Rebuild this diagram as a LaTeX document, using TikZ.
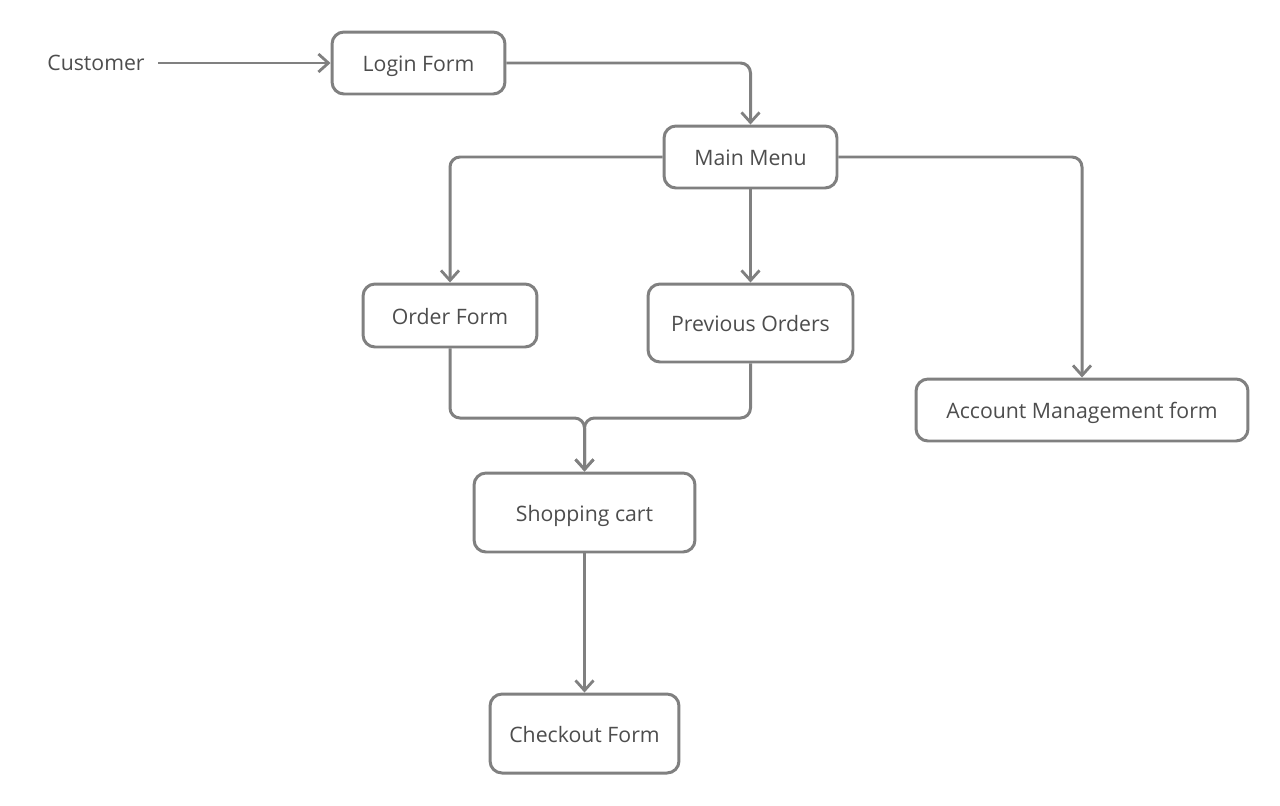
\documentclass[tikz,border=0pt]{standalone}
\usepackage{fontspec}
\setmainfont{Open Sans}
\usetikzlibrary{arrows.meta}
\definecolor{linegray}{HTML}{808080}
\definecolor{textgray}{HTML}{4D4D4D}

\begin{document}
\begin{tikzpicture}[x=0.02cm,y=-0.02cm,
  >={Straight Barb[length=0.2cm,width=0.36cm,line width=1.6pt]},
  every path/.style={line width=1.7pt,draw=linegray},
  flow/.style={->,rounded corners=0.2cm},
  label text/.style={text=textgray,font=\fontsize{12.1pt}{14pt}\selectfont,
    text height=1.25em,text depth=0.24em},
  form/.style={label text,draw=linegray,line width=1.7pt,rounded corners=0.24cm,
    fill=white,inner sep=0pt,minimum height=1.24cm}]
  \useasboundingbox[draw=none] (0,0) rectangle (1280,805);
  \node[label text] (customer) at (96,62) {Customer};
  \node[form, minimum width=3.46cm] (login) at (418.5,63) {Login Form};
  \node[form, minimum width=3.46cm] (main) at (750.5,157) {Main Menu};
  \node[form, minimum width=3.48cm, minimum height=1.26cm] (order) at (450,315.5) {Order Form};
  \node[form, minimum width=4.1cm, minimum height=1.56cm] (prev) at (750.5,323) {Previous Orders};
  \node[form, minimum width=6.64cm] (account) at (1082,410) {Account Management form};
  \node[form, minimum width=4.42cm, minimum height=1.58cm] (cart) at (584.5,512.5) {Shopping cart};
  \node[form, minimum width=3.78cm, minimum height=1.58cm] (checkout) at (584.5,733.5) {Checkout Form};
  \coordinate (join) at (584.5,418);
  % connectors
  \draw[flow] (158,63) -- (login.west);
  \draw[flow] (login.east) -| (main.north);
  \draw[flow] (main.west) -| (order.north);
  \draw[flow] (main.south) -- (prev.north);
  \draw[flow] (main.east) -| (account.north);
  \draw[flow] (order.south) |- (join) -- (cart.north);
  \draw[flow] (prev.south) |- (join) -- (cart.north);
  \draw[flow] (cart.south) -- (checkout.north);
\end{tikzpicture}
\end{document}
